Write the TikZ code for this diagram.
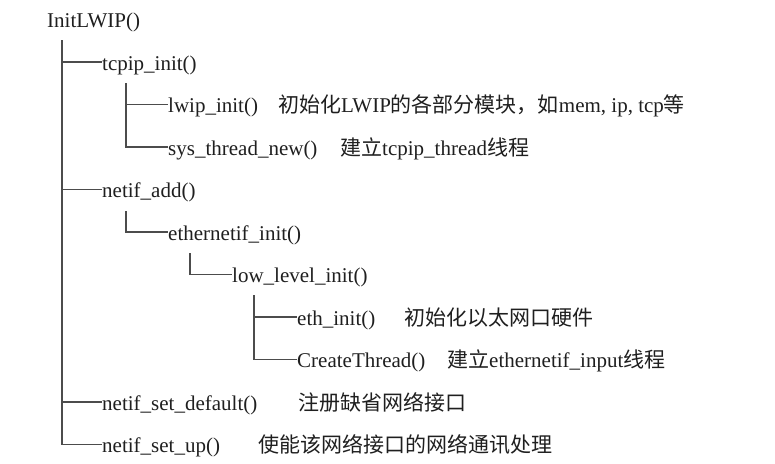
\documentclass[tikz,border=0pt]{standalone}
\usepackage{fontspec}
\setmainfont{Liberation Serif}
\newfontfamily\cjk{Noto Sans CJK SC}
\begin{document}
\begin{tikzpicture}[x=1pt,y=-1pt,
  lbl/.style={anchor=west,inner sep=0pt,text height=20pt,text depth=4pt,
    font=\fontsize{21}{25}\selectfont,text=black!88},
  branch/.style={draw=black!70,line width=1.2pt}]
\fill[white] (0,0) rectangle (775,463);
\useasboundingbox (0,0) rectangle (775,463);
% rows
\node[lbl] (root) at (47,19.5) {InitLWIP()};
\node[lbl] (tcpip) at (102,62) {tcpip\_init()};
\node[lbl] (lwip) at (168,104.5) {lwip\_init()};
\node[lbl] (lwipd) at (278,104.5) {{\cjk 初始化}LWIP{\cjk 的各部分模块，如}mem, ip, tcp{\cjk 等}};
\node[lbl] (sys) at (168,147) {sys\_thread\_new()};
\node[lbl] (sysd) at (340,147) {{\cjk 建立}tcpip\_thread{\cjk 线程}};
\node[lbl] (netifadd) at (102,189.5) {netif\_add()};
\node[lbl] (ethif) at (168,232) {ethernetif\_init()};
\node[lbl] (lowlvl) at (232,274.5) {low\_level\_init()};
\node[lbl] (ethinit) at (297,317) {eth\_init()};
\node[lbl] (ethinitd) at (404,317) {{\cjk 初始化以太网口硬件}};
\node[lbl] (create) at (297,359.5) {CreateThread()};
\node[lbl] (created) at (447,359.5) {{\cjk 建立}ethernetif\_input{\cjk 线程}};
\node[lbl] (setdef) at (102,402) {netif\_set\_default()};
\node[lbl] (setdefd) at (298,402) {{\cjk 注册缺省网络接口}};
\node[lbl] (setup) at (102,444.5) {netif\_set\_up()};
\node[lbl] (setupd) at (258,444.5) {{\cjk 使能该网络接口的网络通讯处理}};
% trunk start points
\coordinate (t0) at (62,40);
\coordinate (t1) at (126,83);
\coordinate (t2) at (126,211);
\coordinate (t3) at (190,253);
\coordinate (t4) at (254,295);
% connectors
\draw[branch] (t0) |- (tcpip.west);
\draw[branch] (t0) |- (netifadd.west);
\draw[branch] (t0) |- (setdef.west);
\draw[branch] (t0) |- (setup.west);
\draw[branch] (t1) |- (lwip.west);
\draw[branch] (t1) |- (sys.west);
\draw[branch] (t2) |- (ethif.west);
\draw[branch] (t3) |- (lowlvl.west);
\draw[branch] (t4) |- (ethinit.west);
\draw[branch] (t4) |- (create.west);
\end{tikzpicture}
\end{document}
